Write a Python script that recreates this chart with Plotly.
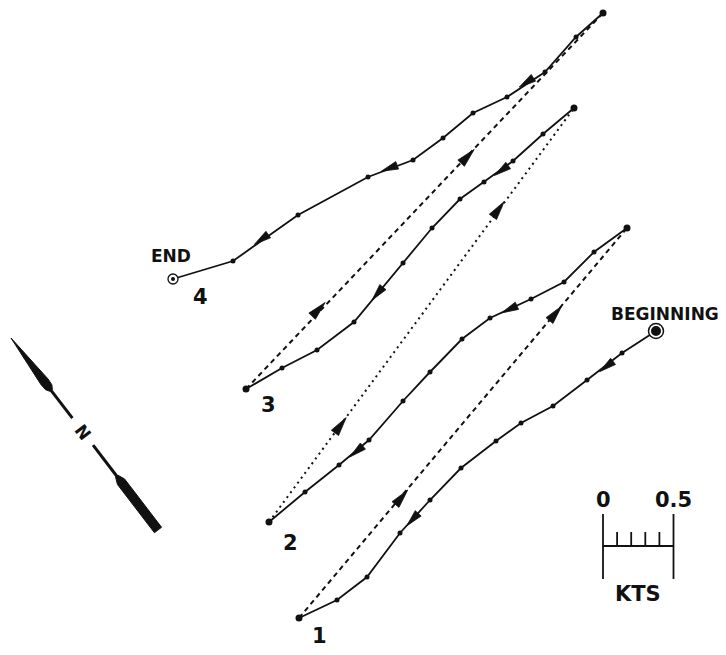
import math
import plotly.graph_objects as go

# ---------------- data (plot units: x to the right, y downward) ----------------
# Each track is listed in order of travel (from its upper-right end to its lower-left end)
track1_x = [656, 622, 587, 553, 521, 496, 461, 430, 400, 367, 337, 299]
track1_y = [331, 353, 380, 406, 423, 441, 468, 500, 533, 577, 600, 618]
track1_arrow_x = [607, 413]
track1_arrow_y = [366, 519]

track2_x = [627, 594, 564, 531, 490, 462, 430, 403, 369, 339, 305, 269]
track2_y = [228, 252, 282, 299, 318, 339, 372, 401, 440, 465, 492, 522]
track2_arrow_x = [510, 357]
track2_arrow_y = [309, 451]

track3_x = [574, 543, 513, 484, 460, 432, 403, 354, 317, 282, 246]
track3_y = [108, 134, 161, 182, 199, 228, 263, 322, 350, 368, 389]
track3_arrow_x = [502, 378]
track3_arrow_y = [170, 293]

track4_x = [603, 576, 545, 507, 473, 443, 413, 368, 298, 233, 173]
track4_y = [13, 37, 72, 97, 113, 138, 160, 177, 215, 261, 279]
track4_arrow_x = [527, 390, 262]
track4_arrow_y = [82, 168, 239]

# return legs (dashed), arrow positions along them
return12_arrow_x = [401, 555]
return12_arrow_y = [498, 314]
return23_arrow_x = [340, 498]
return23_arrow_y = [426, 210]
return34_arrow_x = [318, 467]
return34_arrow_y = [310, 157]

track_labels = ["1", "2", "3", "4"]
track_label_x = [319, 290, 268, 200]
track_label_y = [636, 543, 405, 297]

# scale bar (knots)
scale_ticks_kt = [0, 0.1, 0.2, 0.3, 0.4, 0.5]
scale_tick_labels = ["0", "0.5"]
scale_origin = (603, 546)
px_per_kt = 141.0

# compass needle axis
needle_tip = (11, 338)
needle_end = (158, 530)

BLACK = "#111111"
PAGE_MARGIN = 8  # default body margin of the html page
W, H = 726, 655
fig = go.Figure()


def seg_dir(x0, y0, x1, y1):
    dx, dy = x1 - x0, y1 - y0
    L = math.hypot(dx, dy)
    return dx / L, dy / L


def nearest_segment_dir(px, py, xs, ys):
    best = None
    for i in range(len(xs) - 1):
        ax, ay, bx, by = xs[i], ys[i], xs[i + 1], ys[i + 1]
        vx, vy = bx - ax, by - ay
        t = max(0, min(1, ((px - ax) * vx + (py - ay) * vy) / (vx * vx + vy * vy)))
        cx, cy = ax + t * vx, ay + t * vy
        d = math.hypot(px - cx, py - cy)
        if best is None or d < best[0]:
            best = (d, seg_dir(ax, ay, bx, by))
    return best[1]


def triangle(px, py, ux, uy, length, width):
    nx, ny = -uy, ux
    tipx, tipy = px + ux * length * 0.55, py + uy * length * 0.55
    bx, by = px - ux * length * 0.45, py - uy * length * 0.45
    return ([tipx, bx + nx * width / 2, bx - nx * width / 2, tipx, None],
            [tipy, by + ny * width / 2, by - ny * width / 2, tipy, None])


tracks = [
    (track1_x, track1_y, track1_arrow_x, track1_arrow_y),
    (track2_x, track2_y, track2_arrow_x, track2_arrow_y),
    (track3_x, track3_y, track3_arrow_x, track3_arrow_y),
    (track4_x, track4_y, track4_arrow_x, track4_arrow_y),
]
returns = [
    (track1_x[-1], track1_y[-1], track2_x[0], track2_y[0], return12_arrow_x, return12_arrow_y, "5px,4px"),
    (track2_x[-1], track2_y[-1], track3_x[0], track3_y[0], return23_arrow_x, return23_arrow_y, "2px,4px"),
    (track3_x[-1], track3_y[-1], track4_x[0], track4_y[0], return34_arrow_x, return34_arrow_y, "5px,4px"),
]

arrow_x, arrow_y = [], []

# dashed return legs
for x0, y0, x1, y1, axs, ays, dash in returns:
    fig.add_trace(go.Scatter(x=[x0, x1], y=[y0, y1], mode="lines",
                             line=dict(color=BLACK, width=2, dash=dash),
                             hoverinfo="skip", showlegend=False))
    ux, uy = seg_dir(x0, y0, x1, y1)
    for ax, ay in zip(axs, ays):
        tx, ty = triangle(ax, ay, ux, uy, 19, 9)
        arrow_x += tx
        arrow_y += ty

# solid tracks with dots
for xs, ys, axs, ays in tracks:
    fig.add_trace(go.Scatter(x=xs, y=ys, mode="lines+markers",
                             line=dict(color=BLACK, width=1.8),
                             marker=dict(color=BLACK, size=5),
                             hoverinfo="skip", showlegend=False))
    fig.add_trace(go.Scatter(x=[xs[0], xs[-1]], y=[ys[0], ys[-1]], mode="markers",
                             marker=dict(color=BLACK, size=7),
                             hoverinfo="skip", showlegend=False))
    for ax, ay in zip(axs, ays):
        ux, uy = nearest_segment_dir(ax, ay, xs, ys)
        tx, ty = triangle(ax, ay, ux, uy, 17, 8)
        arrow_x += tx
        arrow_y += ty

fig.add_trace(go.Scatter(x=arrow_x, y=arrow_y, mode="lines", fill="toself",
                         fillcolor=BLACK, line=dict(color=BLACK, width=0.8),
                         hoverinfo="skip", showlegend=False))

# BEGINNING and END markers
fig.add_trace(go.Scatter(x=[track1_x[0]], y=[track1_y[0]], mode="markers",
                         marker=dict(color="white", size=15, line=dict(color=BLACK, width=1.5)),
                         hoverinfo="skip", showlegend=False))
fig.add_trace(go.Scatter(x=[track1_x[0]], y=[track1_y[0]], mode="markers",
                         marker=dict(color=BLACK, size=10),
                         hoverinfo="skip", showlegend=False))
fig.add_trace(go.Scatter(x=[track4_x[-1]], y=[track4_y[-1]], mode="markers",
                         marker=dict(color="white", size=10, line=dict(color=BLACK, width=1.3)),
                         hoverinfo="skip", showlegend=False))
fig.add_trace(go.Scatter(x=[track4_x[-1]], y=[track4_y[-1]], mode="markers",
                         marker=dict(color=BLACK, size=4),
                         hoverinfo="skip", showlegend=False))

# scale bar
ox, oy = scale_origin
sx = [ox + k * px_per_kt for k in scale_ticks_kt]
fig.add_trace(go.Scatter(x=[sx[0], sx[-1]], y=[oy, oy], mode="lines",
                         line=dict(color=BLACK, width=2), hoverinfo="skip", showlegend=False))
bar_x, bar_y = [], []
for i, x in enumerate(sx):
    if i in (0, len(sx) - 1):
        bar_x += [x, x, None]
        bar_y += [oy - 32, oy + 33, None]
    else:
        bar_x += [x, x, None]
        bar_y += [oy - 14, oy, None]
fig.add_trace(go.Scatter(x=bar_x, y=bar_y, mode="lines",
                         line=dict(color=BLACK, width=1.8), hoverinfo="skip", showlegend=False))

# compass needle
tx0, ty0 = needle_tip
L = math.hypot(needle_end[0] - tx0, needle_end[1] - ty0)
dx, dy = (needle_end[0] - tx0) / L, (needle_end[1] - ty0) / L
nx, ny = -dy, dx


def P(s, w):
    return tx0 + dx * s + nx * w, ty0 + dy * s + ny * w


spike = [P(0, 0), P(55, 4.5), P(62, 4), P(66, 1.5), P(66, -1.5), P(62, -4), P(55, -4.5), P(0, 0)]
butt = [P(174, 1.5), P(181, 4.5), P(L, 4.5), P(L, -4.5), P(181, -4.5), P(174, -1.5), P(174, 1.5)]
for poly in (spike, butt):
    fig.add_trace(go.Scatter(x=[p[0] for p in poly], y=[p[1] for p in poly], mode="lines",
                             fill="toself", fillcolor=BLACK, line=dict(color=BLACK, width=1),
                             hoverinfo="skip", showlegend=False))
for s0, s1 in ((64, 101), (135, 176)):
    a, b = P(s0, 0), P(s1, 0)
    fig.add_trace(go.Scatter(x=[a[0], b[0]], y=[a[1], b[1]], mode="lines",
                             line=dict(color=BLACK, width=3), hoverinfo="skip", showlegend=False))
nxp, nyp = P(118, 0)
needle_angle = math.degrees(math.atan2(dy, dx))

FONT = "DejaVu Sans"
ann = []
for t, x, y in zip(track_labels, track_label_x, track_label_y):
    ann.append(dict(x=x, y=y, text=t, showarrow=False,
                    font=dict(family=FONT, size=21, color=BLACK, weight="bold")))
ann.append(dict(x=track4_x[-1] - 2, y=256, text="END", showarrow=False,
                font=dict(family=FONT, size=17, color=BLACK, weight="bold")))
ann.append(dict(x=665, y=314, text="BEGINNING", showarrow=False,
                font=dict(family=FONT, size=17, color=BLACK, weight="bold")))
ann.append(dict(x=sx[0], y=500, text=scale_tick_labels[0], showarrow=False,
                font=dict(family=FONT, size=21, color=BLACK, weight="bold")))
ann.append(dict(x=sx[-1], y=500, text=scale_tick_labels[1], showarrow=False,
                font=dict(family=FONT, size=21, color=BLACK, weight="bold")))
ann.append(dict(x=(sx[0] + sx[-1]) / 2, y=594, text="KTS", showarrow=False,
                font=dict(family=FONT, size=21, color=BLACK, weight="bold")))
ann.append(dict(x=nxp, y=nyp, text="N", showarrow=False, textangle=needle_angle,
                font=dict(family=FONT, size=17, color=BLACK, weight="bold")))

# figure sits inside the page's default 8px body margin: map data units to page pixels
fig.update_layout(
    width=W - 2 * PAGE_MARGIN, height=H - 2 * PAGE_MARGIN,
    margin=dict(l=0, r=0, t=0, b=0),
    paper_bgcolor="white", plot_bgcolor="white",
    xaxis=dict(range=[PAGE_MARGIN, W - PAGE_MARGIN], visible=False, fixedrange=True),
    yaxis=dict(range=[H - PAGE_MARGIN, PAGE_MARGIN], visible=False, fixedrange=True),
    annotations=ann,
    showlegend=False,
)

fig.write_html("out.html")
